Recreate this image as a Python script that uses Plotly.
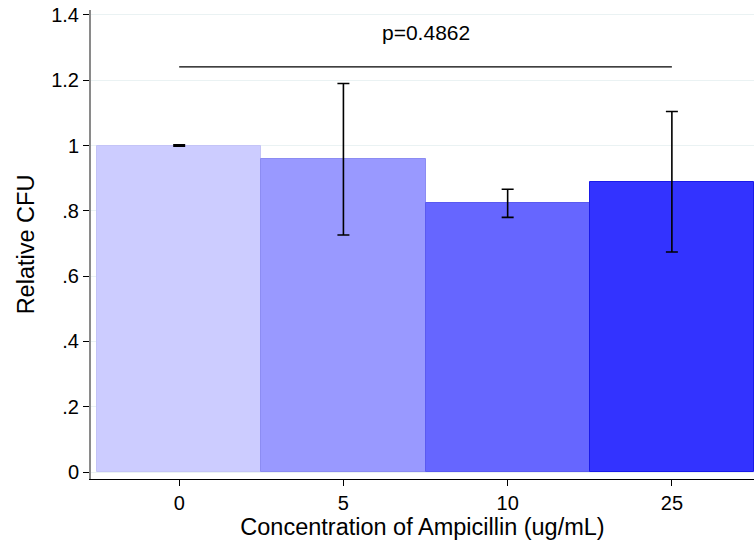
import plotly.graph_objects as go

categories = ["0", "5", "10", "25"]
means = [1.0, 0.958, 0.823, 0.889]
errors = [0.002, 0.232, 0.043, 0.215]
bar_colors = ["#CCCCFF", "#9999FF", "#6666FF", "#3333FF"]
edge_colors = ["#C4C4F7", "#8C8CF2", "#5A5AF0", "#1A1AE8"]
y_ticks = [0, 0.2, 0.4, 0.6, 0.8, 1.0, 1.2, 1.4]
y_tick_labels = ["0", ".2", ".4", ".6", ".8", "1", "1.2", "1.4"]
p_text = "p=0.4862"
p_level = 1.241
p_text_level = 1.345

xs = list(range(len(categories)))
fam = "Liberation Sans, Arial, sans-serif"
tick_font = dict(family=fam, size=20, color="#000000")
title_font = dict(family=fam, size=23.5, color="#000000")
ann_font = dict(family=fam, size=21, color="#000000")

fig = go.Figure()
fig.add_trace(go.Bar(
    x=xs, y=means, width=1.0,
    marker=dict(color=bar_colors, line=dict(color=edge_colors, width=1)),
    error_y=dict(type="data", array=errors, visible=True, color="#000000",
                 thickness=1.6, width=6),
    showlegend=False,
))

fig.add_shape(type="line", xref="x", yref="y", x0=xs[0], x1=xs[-1],
              y0=p_level, y1=p_level, line=dict(color="#000000", width=1.2))
fig.add_annotation(x=(xs[0] + xs[-1]) / 2, y=p_text_level, xref="x", yref="y",
                   text=p_text, showarrow=False, font=ann_font)

fig.update_layout(
    width=754, height=544,
    margin=dict(l=91, r=0, t=10, b=65),
    paper_bgcolor="white", plot_bgcolor="white",
    font=tick_font,
    bargap=0,
)
fig.update_xaxes(
    range=[-0.537, 3.5],
    tickvals=xs, ticktext=categories,
    ticks="outside", ticklen=6, tickcolor="#000000", tickwidth=1,
    showline=True, linecolor="#000000", linewidth=1,
    showgrid=False, zeroline=False,
    title=dict(text="Concentration of Ampicillin (ug/mL)", standoff=0, font=title_font),
    tickfont=tick_font,
)
fig.update_yaxes(
    range=[-0.0214, 1.415],
    tickvals=y_ticks, ticktext=y_tick_labels,
    ticks="outside", ticklen=6, tickcolor="#000000", tickwidth=1,
    showline=True, linecolor="#8A8A8A", linewidth=2,
    showgrid=True, gridcolor="#EAF2F3", gridwidth=1,
    zeroline=False,
    title=dict(text="Relative CFU", standoff=10, font=title_font),
    tickfont=tick_font,
)

fig.write_html("out.html", config={"displayModeBar": False},
               post_script="document.body.style.margin='0px';")
